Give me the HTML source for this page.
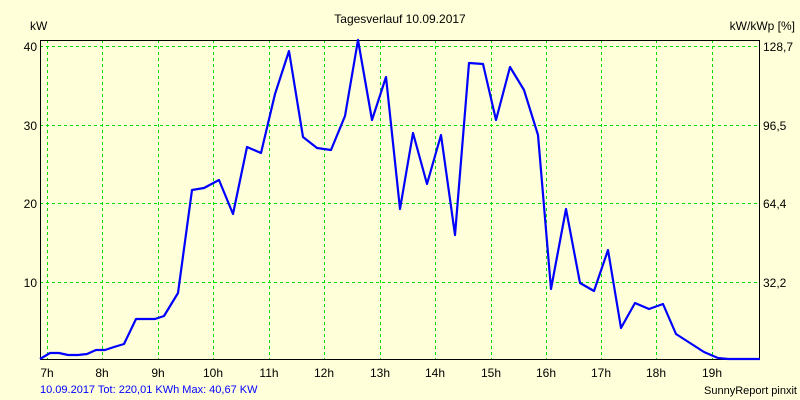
<!DOCTYPE html>
<html><head><meta charset="utf-8"><style>
html,body{margin:0;padding:0;background:#FFFFD9;}
svg{display:block;font-family:"Liberation Sans",sans-serif;font-size:12px;}
</style></head><body>
<svg width="800" height="400" viewBox="0 0 800 400">
<rect width="800" height="400" fill="#FFFFD9"/>
<g stroke="#00E000" stroke-width="1" stroke-dasharray="3,3" fill="none">
<line x1="40" y1="46.5" x2="759" y2="46.5"/>
<line x1="40" y1="125.5" x2="759" y2="125.5"/>
<line x1="40" y1="203.5" x2="759" y2="203.5"/>
<line x1="40" y1="282.5" x2="759" y2="282.5"/>
<line x1="47.5" y1="40" x2="47.5" y2="359"/>
<line x1="102.5" y1="40" x2="102.5" y2="359"/>
<line x1="158.5" y1="40" x2="158.5" y2="359"/>
<line x1="213.5" y1="40" x2="213.5" y2="359"/>
<line x1="269.5" y1="40" x2="269.5" y2="359"/>
<line x1="324.5" y1="40" x2="324.5" y2="359"/>
<line x1="380.5" y1="40" x2="380.5" y2="359"/>
<line x1="435.5" y1="40" x2="435.5" y2="359"/>
<line x1="491.5" y1="40" x2="491.5" y2="359"/>
<line x1="546.5" y1="40" x2="546.5" y2="359"/>
<line x1="601.5" y1="40" x2="601.5" y2="359"/>
<line x1="656.5" y1="40" x2="656.5" y2="359"/>
<line x1="712.5" y1="40" x2="712.5" y2="359"/>
</g>
<rect x="40.5" y="40.5" width="719" height="319" fill="none" stroke="#000" stroke-width="1"/>
<polyline fill="none" stroke="#0000FF" stroke-width="2.2" stroke-linejoin="round" points="40,359 50,353 59,353 68,355 78,355 87,354 96,350 105,350 114,347 124,344 136,319 155,319 164,316 178,293 192,190 204,188 219,180 233,214 247,147 261,153 275,94 289,51 303,137 317,148 331,150 345,116 358,40 372,120 386,77 400,209 413,133 427,184 441,135 455,235 469,63 483,64 496,120 510,67 524,90 538,135 551,289 566,209 580,283 594,291 608,250 621,328 635,303 649,309 663,304 676,334 690,343 704,352 718,358 728,359 760,359"/>
<text x="400" y="23" text-anchor="middle">Tagesverlauf 10.09.2017</text>
<text x="30" y="30">kW</text>
<text x="795" y="30" text-anchor="end">kW/kWp [%]</text>
<g text-anchor="end">
<text x="37" y="51">40</text>
<text x="37" y="130">30</text>
<text x="37" y="208">20</text>
<text x="37" y="287">10</text>
</g>
<g>
<text x="763" y="51">128,7</text>
<text x="763" y="130">96,5</text>
<text x="763" y="208">64,4</text>
<text x="763" y="287">32,2</text>
</g>
<g text-anchor="middle">
<text x="47" y="377">7h</text>
<text x="102" y="377">8h</text>
<text x="158" y="377">9h</text>
<text x="213" y="377">10h</text>
<text x="269" y="377">11h</text>
<text x="324" y="377">12h</text>
<text x="380" y="377">13h</text>
<text x="435" y="377">14h</text>
<text x="491" y="377">15h</text>
<text x="546" y="377">16h</text>
<text x="601" y="377">17h</text>
<text x="656" y="377">18h</text>
<text x="712" y="377">19h</text>
</g>
<text x="40" y="393" fill="#0000FF" font-size="11">10.09.2017 Tot: 220,01 KWh Max: 40,67 KW</text>
<text x="797" y="394" text-anchor="end" font-size="11">SunnyReport pinxit</text>
</svg>
</body></html>
